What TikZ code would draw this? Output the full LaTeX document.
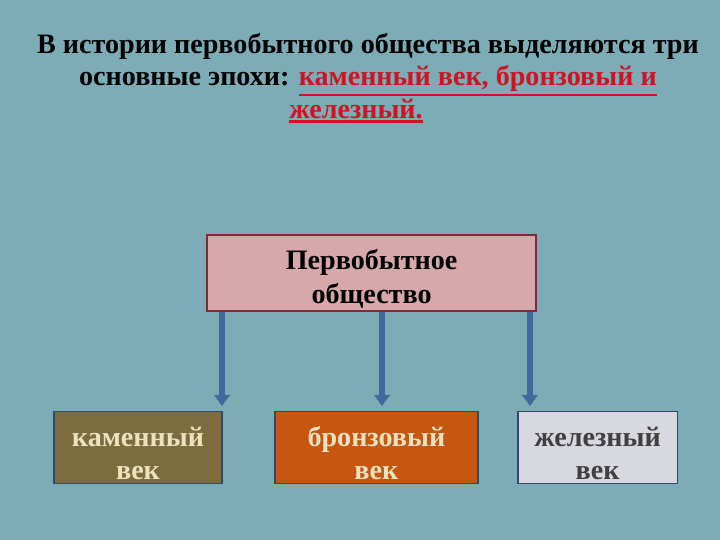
\documentclass[tikz,border=0pt]{standalone}
\usepackage{fontspec}
\setmainfont{Liberation Serif}
\usetikzlibrary{arrows.meta, positioning}
\newcommand{\thickul}[1]{\leavevmode\vtop{\hbox{#1}\kern1.2pt\hrule height 1.6pt}}
\newcommand{\toppad}{\rule{0pt}{22pt}}
\definecolor{slidebg}{RGB}{124,172,182}
\definecolor{rootfill}{RGB}{214,168,172}
\definecolor{rootline}{RGB}{130,40,60}
\definecolor{stonefill}{RGB}{124,108,62}
\definecolor{bronzefill}{RGB}{198,86,16}
\definecolor{ironfill}{RGB}{216,216,224}
\definecolor{agetext}{RGB}{236,226,190}
\definecolor{arrowblue}{RGB}{66,104,156}
\definecolor{titlered}{RGB}{205,20,35}

\begin{document}
\begin{tikzpicture}[
        agebox/.style={draw=arrowblue!70!black, line width=1pt, minimum height=1.8cm,
                       inner ysep=0pt, align=center, font=\bfseries\fontsize{20}{23.5}\selectfont},
        arr/.style={-{Triangle[width=11pt,length=8pt]}, line width=4pt, arrowblue}
      ]
        % slide background
        \fill[slidebg] (0,0) rectangle (18,-13.5);

        \node[align=center, font=\bfseries\fontsize{20}{23}\selectfont] (title) at (9.2,-1.95)
          {В истории первобытного общества выделяются три\\
           основные эпохи: \textcolor{titlered}{\thickul{каменный век, бронзовый и}}\\
           \textcolor{titlered}{\thickul{железный.}}\hspace*{0.6cm}};

        \node[draw=rootline, line width=1.2pt, fill=rootfill, minimum width=8.22cm,
              minimum height=1.9cm, inner ysep=0pt, align=center,
              font=\bfseries\fontsize{20}{24.5}\selectfont] (root) at (9.29,-6.83)
          {\toppad Первобытное\\общество};

        \node[agebox, fill=stonefill, text=agetext, minimum width=4.2cm] (stone) at (3.45,-11.18)
          {\toppad каменный\\век};
        \node[agebox, fill=bronzefill, text=agetext, minimum width=5.07cm] (bronze) at (9.41,-11.19)
          {\toppad бронзовый\\век};
        \node[agebox, fill=ironfill, text=black!75, minimum width=3.98cm] (iron) at (14.94,-11.18)
          {\toppad железный\\век};

        \coordinate (stoneend) at (5.55,-10.15);
        \coordinate (bronzeend) at (9.55,-10.15);
        \coordinate (ironend) at (13.25,-10.15);

        \draw[arr] (root.south -| stoneend) -- (stoneend);
        \draw[arr] (root.south -| bronzeend) -- (bronzeend);
        \draw[arr] (root.south -| ironend) -- (ironend);
      \end{tikzpicture}
\end{document}
